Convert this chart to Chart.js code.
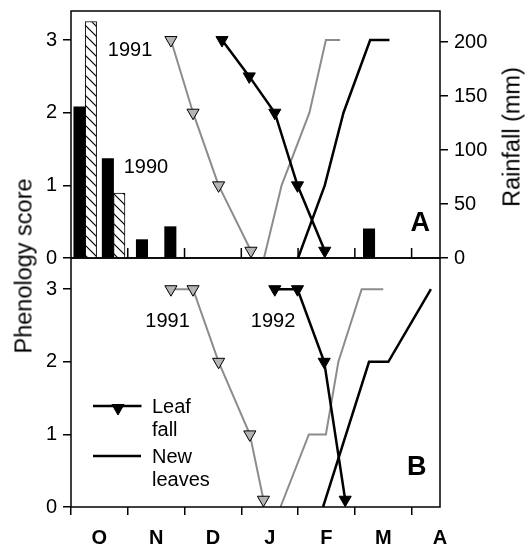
<!DOCTYPE html>
<html lang="en">
<head>
<meta charset="UTF-8" />
<title>Phenology score and rainfall</title>
<script src="https://cdn.jsdelivr.net/npm/chart.js@4"></script>
<style>
  body { margin: 0; background: #fff; }
  .wrap {
    position: relative;
    width: 527px;
    height: 550px;
    font-family: 'Liberation Sans', Arial, sans-serif;
    color: #000;
  }
  canvas { position: absolute; left: 0; }
  #panelA { top: 0; }
  #panelB { top: 250px; }
  .vtitle {
    position: absolute;
    transform: translate(-50%, -50%) rotate(-90deg);
    font-size: 23.5px;
    white-space: nowrap;
  }
</style>
</head>
<body>
<div class="wrap">
  <canvas id="panelB" width="527" height="300"></canvas>
  <canvas id="panelA" width="527" height="275"></canvas>
  <div class="vtitle" style="left:24px; top:266px;">Phenology score</div>
  <div class="vtitle" style="left:512px; top:137px;">Rainfall (mm)</div>
</div>

<script>
// month labels (axis starts 1 Oct, one unit = one month)
const months = ['O', 'N', 'D', 'J', 'F', 'M', 'A'];
// rainfall per half month, mid-points in months after 1 Oct
const fortnights = ['Oct a', 'Oct b', 'Nov a', 'Nov b', 'Dec a', 'Dec b', 'Jan a',
                    'Jan b', 'Feb a', 'Feb b', 'Mar a', 'Mar b', 'Apr a'];
const fortnightMid = [0.25, 0.75, 1.25, 1.75, 2.25, 2.75, 3.25,
                      3.75, 4.25, 4.75, 5.25, 5.75, 6.25];
const rain1990 = [140, 92, 17, 29, null, null, null, null, null, null, 27, null, null];
const rain1991 = [219, 60, null, null, null, null, null, null, null, null, null, null, null];

// panel A
const leafFallA91X = [1.76, 2.15, 2.60, 3.17];
const leafFallA91Y = [3, 2, 1, 0.1];
const leafFallA92X = [2.66, 3.14, 3.59, 3.99, 4.47];
const leafFallA92Y = [3, 2.5, 2, 1, 0.1];
const newLeavesA91X = [3.40, 3.71, 4.20, 4.49, 4.74];
const newLeavesA91Y = [0, 1, 2, 3, 3];
const newLeavesA92X = [4.00, 4.47, 4.80, 5.27, 5.61];
const newLeavesA92Y = [0, 1, 2, 3, 3];

// panel B
const leafFallB91X = [1.76, 2.15, 2.60, 3.15, 3.39];
const leafFallB91Y = [3, 3, 2, 1, 0.1];
const leafFallB92X = [3.59, 3.99, 4.46, 4.83];
const leafFallB92Y = [3, 3, 2, 0.1];
const newLeavesB91X = [3.69, 4.19, 4.49, 4.71, 5.12, 5.50];
const newLeavesB91Y = [0, 1, 1, 2, 3, 3];
const newLeavesB92X = [4.44, 5.25, 5.59, 6.34];
const newLeavesB92Y = [0, 2, 2, 3];

const GREY_LINE = '#8c8c8c';
const GREY_FILL = '#b4b4b4';

Chart.defaults.font.family = "'Liberation Sans', Arial, sans-serif";
Chart.defaults.color = '#000';

function pts(xs, ys) {
  return xs.map((x, i) => ({ x: x, y: ys[i] }));
}

function leafFall(xs, ys, line, fill, width) {
  return {
    type: 'line', data: pts(xs, ys), xAxisID: 'x', yAxisID: 'y',
    borderColor: line, borderWidth: width,
    pointStyle: 'triangle', pointRotation: 180, pointRadius: 7,
    pointBackgroundColor: fill, pointBorderColor: '#000', pointBorderWidth: 1,
    order: 1
  };
}

function newLeaves(xs, ys, line, width) {
  return {
    type: 'line', data: pts(xs, ys), xAxisID: 'x', yAxisID: 'y',
    borderColor: line, borderWidth: width, pointRadius: 0, order: 2
  };
}

function makeHatch(ctx) {
  const c = document.createElement('canvas');
  c.width = 10; c.height = 10;
  const g = c.getContext('2d');
  g.fillStyle = '#fff';
  g.fillRect(0, 0, 10, 10);
  g.strokeStyle = '#000';
  g.lineWidth = 1.2;
  g.beginPath();
  g.moveTo(-2, -2); g.lineTo(12, 12);
  g.moveTo(-2, 8); g.lineTo(2, 12);
  g.moveTo(8, -2); g.lineTo(12, 2);
  g.stroke();
  return ctx.createPattern(c, 'repeat');
}

function yAxis(max, width) {
  return {
    position: 'left', min: 0, max: max,
    afterFit: s => { s.width = width; s.paddingTop = 0; s.paddingBottom = 0; },
    ticks: { stepSize: 1, includeBounds: false, padding: 6, font: { size: 20 } },
    grid: { drawOnChartArea: false, tickLength: 8, color: '#000', lineWidth: 1.5 },
    border: { display: false }
  };
}

function text(ctx, str, x, y, font) {
  ctx.save();
  ctx.font = font;
  ctx.fillStyle = '#000';
  ctx.textAlign = 'center';
  ctx.textBaseline = 'middle';
  ctx.fillText(str, x, y);
  ctx.restore();
}

function frame(chart) {
  const a = chart.chartArea;
  const ctx = chart.ctx;
  ctx.save();
  ctx.strokeStyle = '#000';
  ctx.lineWidth = 1.5;
  ctx.strokeRect(a.left, a.top, a.right - a.left, a.bottom - a.top);
  ctx.restore();
}

const FONT = "20px 'Liberation Sans', Arial, sans-serif";
const BIG = "bold 27px 'Liberation Sans', Arial, sans-serif";

// ---------- panel A ----------
const ctxA = document.getElementById('panelA').getContext('2d');

const panelAPlugin = {
  id: 'panelA',
  afterDraw(chart) {
    const ctx = chart.ctx;
    const xs = chart.scales.x, ys = chart.scales.y;
    frame(chart);
    // inward month ticks on the bottom axis
    ctx.save();
    ctx.strokeStyle = '#000';
    ctx.lineWidth = 1.5;
    ctx.beginPath();
    for (let m = 1; m < months.length; m++) {
      const px = xs.getPixelForValue(m);
      ctx.moveTo(px, chart.chartArea.bottom);
      ctx.lineTo(px, chart.chartArea.bottom - 10);
    }
    ctx.stroke();
    ctx.restore();
    text(ctx, '1991', xs.getPixelForValue(1.04), ys.getPixelForValue(2.86), FONT);
    text(ctx, '1990', xs.getPixelForValue(1.32), ys.getPixelForValue(1.25), FONT);
    text(ctx, 'A', xs.getPixelForValue(6.15), ys.getPixelForValue(0.47), BIG);
  }
};

new Chart(ctxA, {
  type: 'bar',
  data: {
    datasets: [
      {
        label: '1990', data: pts(fortnightMid, rain1990), xAxisID: 'x', yAxisID: 'yr',
        stack: 's1990', backgroundColor: '#000', borderWidth: 0, order: 10
      },
      {
        label: '1991', data: pts(fortnightMid, rain1991), xAxisID: 'x', yAxisID: 'yr',
        stack: 's1991', backgroundColor: makeHatch(ctxA), borderColor: '#000',
        borderWidth: 1, order: 10
      },
      leafFall(leafFallA91X, leafFallA91Y, GREY_LINE, GREY_FILL, 2),
      leafFall(leafFallA92X, leafFallA92Y, '#000', '#000', 2.5),
      newLeaves(newLeavesA91X, newLeavesA91Y, GREY_LINE, 2),
      newLeaves(newLeavesA92X, newLeavesA92Y, '#000', 2.5)
    ]
  },
  options: {
    responsive: false,
    animation: false,
    devicePixelRatio: 1,
    layout: { padding: { top: 11, bottom: 17, left: 0, right: 0 } },
    datasets: {
      bar: { skipNull: true, grouped: true, barThickness: 11.4 }
    },
    scales: {
      x: {
        type: 'linear', min: 0, max: 6.5, display: false,
        offset: false, grid: { offset: false }
      },
      y: yAxis(3.4, 71),
      yr: {
        position: 'right', min: 0, max: 228.7,
        afterFit: s => { s.width = 87; s.paddingTop = 0; s.paddingBottom = 0; },
        ticks: { stepSize: 50, includeBounds: false, padding: 6, font: { size: 20 } },
        grid: { drawOnChartArea: false, tickLength: 8, color: '#000', lineWidth: 1.5 },
        border: { display: false }
      }
    },
    plugins: { legend: { display: false }, tooltip: { enabled: false } }
  },
  plugins: [panelAPlugin]
});

// ---------- panel B ----------
const ctxB = document.getElementById('panelB').getContext('2d');

const panelBPlugin = {
  id: 'panelB',
  afterDraw(chart) {
    const ctx = chart.ctx;
    const xs = chart.scales.x, ys = chart.scales.y;
    frame(chart);
    text(ctx, '1991', xs.getPixelForValue(1.70), ys.getPixelForValue(2.56), FONT);
    text(ctx, '1992', xs.getPixelForValue(3.56), ys.getPixelForValue(2.56), FONT);
    text(ctx, 'B', xs.getPixelForValue(6.09), ys.getPixelForValue(0.54), BIG);

    // legend
    ctx.save();
    ctx.strokeStyle = '#000';
    ctx.lineWidth = 2.5;
    ctx.beginPath();
    ctx.moveTo(93, 156); ctx.lineTo(141.5, 156);
    ctx.moveTo(93, 206); ctx.lineTo(141, 206);
    ctx.stroke();
    ctx.fillStyle = '#000';
    ctx.lineWidth = 1;
    Chart.helpers.drawPoint(ctx, { pointStyle: 'triangle', rotation: 180, radius: 7, borderWidth: 1 }, 118, 158);
    ctx.font = FONT;
    ctx.textAlign = 'left';
    ctx.textBaseline = 'middle';
    ctx.fillText('Leaf', 152, 157);
    ctx.fillText('fall', 152, 180);
    ctx.fillText('New', 152, 207);
    ctx.fillText('leaves', 152, 230);
    ctx.restore();
  }
};

const xTickValues = [];
for (let m = 0; m < months.length; m++) {
  xTickValues.push(m, m + 0.5);
}

new Chart(ctxB, {
  type: 'line',
  data: {
    datasets: [
      leafFall(leafFallB91X, leafFallB91Y, GREY_LINE, GREY_FILL, 2),
      leafFall(leafFallB92X, leafFallB92Y, '#000', '#000', 2.5),
      newLeaves(newLeavesB91X, newLeavesB91Y, GREY_LINE, 2),
      newLeaves(newLeavesB92X, newLeavesB92Y, '#000', 2.5)
    ]
  },
  options: {
    responsive: false,
    animation: false,
    devicePixelRatio: 1,
    layout: { padding: { top: 8, bottom: 0, left: 0, right: 87 } },
    scales: {
      x: {
        type: 'linear', min: 0, max: 6.5, position: 'bottom',
        afterBuildTicks: s => { s.ticks = xTickValues.map(v => ({ value: v })); },
        afterFit: s => { s.height = 43; s.paddingLeft = 0; s.paddingRight = 0; },
        ticks: {
          autoSkip: false, maxRotation: 0, padding: 11,
          font: { size: 20, weight: 'bold' },
          callback: v => Number.isInteger(v) ? '' : months[Math.floor(v)]
        },
        grid: {
          drawOnChartArea: false, tickLength: 8, lineWidth: 1.5,
          color: c => (c.tick && Number.isInteger(c.tick.value)) ? '#000' : 'rgba(0,0,0,0)'
        },
        border: { display: false }
      },
      y: yAxis(3.43, 71)
    },
    plugins: { legend: { display: false }, tooltip: { enabled: false } }
  },
  plugins: [panelBPlugin]
});
</script>
</body>
</html>
